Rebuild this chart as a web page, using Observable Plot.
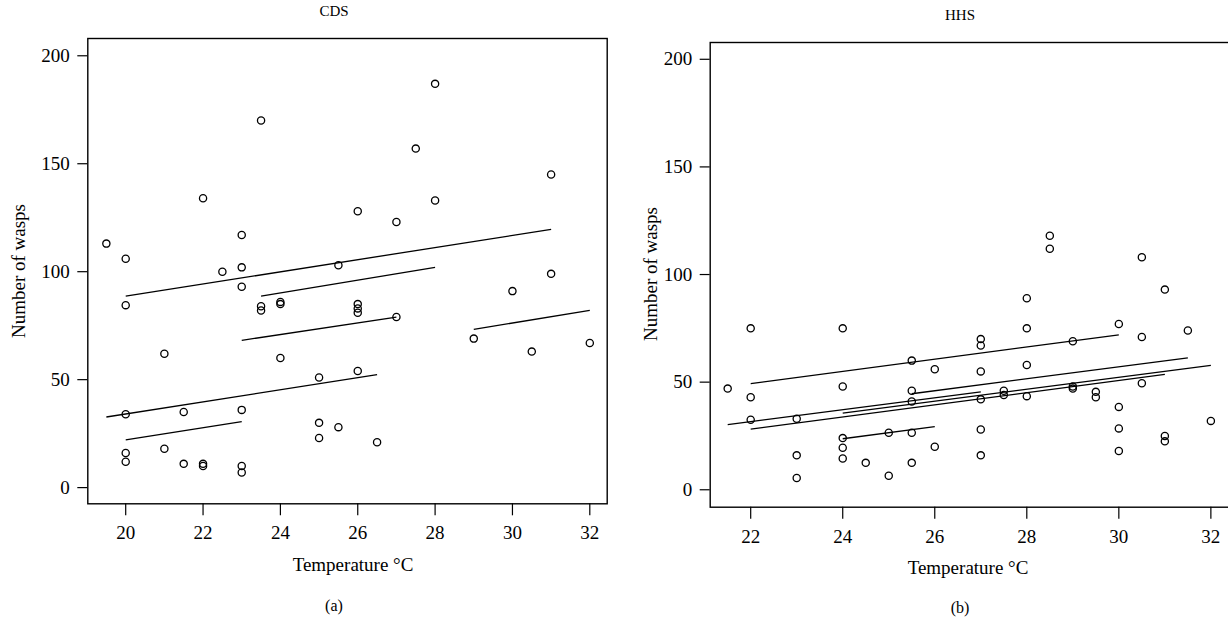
<!DOCTYPE html>
<html>
<head>
<meta charset="utf-8">
<script src="https://cdn.jsdelivr.net/npm/d3@7"></script>
<script src="https://cdn.jsdelivr.net/npm/@observablehq/plot@0.6"></script>
<style>
  html, body { margin: 0; padding: 0; background: #fff; }
  body { width: 1228px; height: 623px; position: relative; overflow: hidden; font-family: "Liberation Serif", "DejaVu Serif", serif; color: #000; }
  .pane { position: absolute; top: 0; width: 620px; height: 560px; }
  .pane svg { max-width: none !important; }
  .txt { position: absolute; white-space: nowrap; transform: translate(-50%, -50%); line-height: 1; }
  .ylab { position: absolute; white-space: nowrap; transform: translate(-50%, -50%) rotate(-90deg); line-height: 1; }
</style>
</head>
<body>
<div id="left" class="pane" style="left:0px"></div>
<div id="right" class="pane" style="left:620px"></div>

<div class="txt" style="left:334px; top:11px; font-size:15px;">CDS</div>
<div class="txt" style="left:960px; top:15px; font-size:15px;">HHS</div>
<div class="ylab" style="left:18px; top:271px; font-size:19px;">Number of wasps</div>
<div class="ylab" style="left:650px; top:274px; font-size:19px;">Number of wasps</div>
<div class="txt" style="left:353px; top:564px; font-size:19px;">Temperature °C</div>
<div class="txt" style="left:968px; top:567px; font-size:19px;">Temperature °C</div>
<div class="txt" style="left:334px; top:606px; font-size:16px;">(a)</div>
<div class="txt" style="left:960px; top:608px; font-size:16px;">(b)</div>

<script>
// ---- Panel (a) CDS: observed points ----
const cdsTemp  = [19.5, 20, 20, 20, 20, 20, 21, 21, 21.5, 21.5, 22, 22, 22, 22.5, 23, 23, 23, 23, 23, 23,
                  23.5, 23.5, 23.5, 24, 24, 24, 25, 25, 25, 25.5, 25.5, 26, 26, 26, 26, 26, 26.5, 27, 27,
                  27.5, 28, 28, 29, 30, 30.5, 31, 31, 32];
const cdsCount = [113, 106, 84.5, 34, 16, 12, 62, 18, 35, 11, 134, 11, 10, 100, 117, 102, 93, 36, 10, 7,
                  170, 84, 82, 86, 85, 60, 51, 30, 23, 103, 28, 128, 85, 83, 81, 54, 21, 123, 79,
                  157, 187, 133, 69, 91, 63, 145, 99, 67];
// ---- Panel (a) fitted lines ----
const cdsLineX1 = [20, 23.5, 23, 19.5, 20, 29];
const cdsLineY1 = [88.7, 88.7, 68.2, 32.7, 22.1, 73.3];
const cdsLineX2 = [31, 28, 27, 26.5, 23, 32];
const cdsLineY2 = [119.6, 102, 79, 52.3, 30.6, 82.1];

// ---- Panel (b) HHS: observed points ----
const hhsTemp  = [21.5, 22, 22, 22, 23, 23, 23, 24, 24, 24, 24, 24, 24.5, 25, 25, 25.5, 25.5, 25.5, 25.5, 25.5,
                  26, 26, 27, 27, 27, 27, 27, 27, 27.5, 27.5, 28, 28, 28, 28, 28.5, 28.5, 29, 29, 29,
                  29.5, 29.5, 30, 30, 30, 30, 30.5, 30.5, 30.5, 31, 31, 31, 31.5, 32];
const hhsCount = [47, 75, 43, 32.5, 33, 16, 5.5, 75, 48, 24, 19.5, 14.5, 12.5, 26.5, 6.5, 60, 46, 41, 26.5, 12.5,
                  56, 20, 70, 67, 55, 42, 28, 16, 46, 44, 89, 75, 58, 43.5, 118, 112, 69, 48, 47,
                  45.5, 43, 77, 38.5, 28.5, 18, 108, 71, 49.5, 93, 25, 22.5, 74, 32];
// ---- Panel (b) fitted lines ----
const hhsLineX1 = [22, 21.5, 22, 24, 25.5, 24];
const hhsLineY1 = [49.3, 30.3, 28.2, 35.6, 44.6, 23.7];
const hhsLineX2 = [30, 27, 31, 32, 31.5, 26];
const hhsLineY2 = [72, 45.5, 53.6, 57.8, 61.3, 29.3];

// ---- Tick values ----
const yTicks = [0, 50, 100, 150, 200];
const cdsXTicks = [20, 22, 24, 26, 28, 30, 32];
const hhsXTicks = [22, 24, 26, 28, 30, 32];

const pts = (xs, ys) => xs.map((x, i) => ({x, y: ys[i]}));
const segs = (x1, y1, x2, y2) => x1.map((v, i) => ({x1: v, y1: y1[i], x2: x2[i], y2: y2[i]}));

function panel({points, lines, xDomain, yDomain, xTicks, margins, width, height}) {
  return Plot.plot({
    width, height,
    marginTop: margins.top, marginBottom: margins.bottom,
    marginLeft: margins.left, marginRight: margins.right,
    style: {fontFamily: '"Liberation Serif", serif', fontSize: "19px", background: "#fff", color: "#000", overflow: "visible", maxWidth: "none"},
    x: {domain: xDomain},
    y: {domain: yDomain},
    marks: [
      Plot.axisX({ticks: xTicks, tickSize: 12, tickPadding: 10, tickFormat: d => String(d), label: null, stroke: "#000", strokeWidth: 1.2, fontSize: 19}),
      Plot.axisY({ticks: yTicks, tickSize: 10, tickPadding: 8, tickFormat: d => String(d), label: null, stroke: "#000", strokeWidth: 1.2, fontSize: 19}),
      Plot.link(lines, {x1: "x1", y1: "y1", x2: "x2", y2: "y2", stroke: "#000", strokeWidth: 1.3}),
      Plot.dot(points, {x: "x", y: "y", r: 3.6, stroke: "#000", strokeWidth: 1.3, fill: "none"}),
      Plot.frame({stroke: "#000", strokeWidth: 1.4})
    ]
  });
}

document.getElementById("left").appendChild(panel({
  points: pts(cdsTemp, cdsCount),
  lines: segs(cdsLineX1, cdsLineY1, cdsLineX2, cdsLineY2),
  xDomain: [19.02, 32.45], yDomain: [-7.5, 208],
  xTicks: cdsXTicks,
  width: 620, height: 560,
  margins: {top: 38, bottom: 56.7, left: 87.3, right: 13.3}
}));

document.getElementById("right").appendChild(panel({
  points: pts(hhsTemp, hhsCount),
  lines: segs(hhsLineX1, hhsLineY1, hhsLineX2, hhsLineY2),
  xDomain: [21.12, 32.47], yDomain: [-8.1, 207.8],
  xTicks: hhsXTicks,
  width: 620, height: 560,
  margins: {top: 42, bottom: 53.3, left: 89.7, right: 8}
}));
</script>
</body>
</html>
